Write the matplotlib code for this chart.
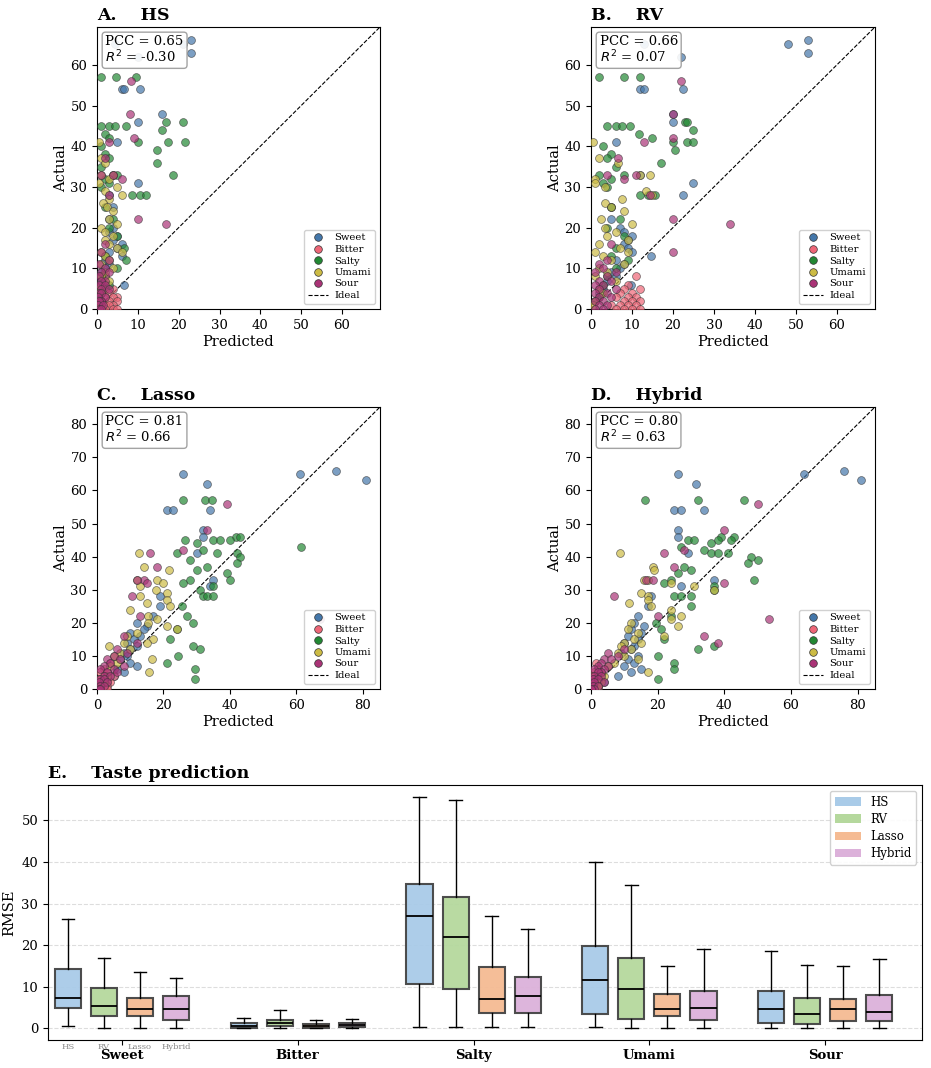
import matplotlib
matplotlib.use('Agg')
import matplotlib.pyplot as plt
from matplotlib.lines import Line2D
from matplotlib.patches import Patch
import numpy as np

plt.rcParams['font.family'] = 'serif'
plt.rcParams['font.serif'] = ['DejaVu Serif']

# ---- scatter data (actual values shared, predicted per model) ----
TASTES = ['Sweet', 'Bitter', 'Salty', 'Umami', 'Sour']
TASTE_COLORS = ['#4477AA', '#EE6677', '#228833', '#CCBB44', '#AA3377']

sweet_actual = [65, 66, 63, 65, 62, 54, 54, 54, 48, 46, 41, 33, 31, 28, 25, 22, 20, 19, 18, 17,
                16, 15, 14, 13, 12, 11, 10, 9, 8, 7, 6, 5, 4, 2]
sweet_hs = [21, 23, 23, 4.5, 10, 6, 6.5, 10.5, 16, 10, 5, 4, 10, 3, 4, 3, 4, 3, 5, 4,
            6, 5, 3, 6, 2, 3, 2, 1, 2, 1, 6.5, 1, 0.5, 0.3]
sweet_rv = [48, 53, 53, 13, 22, 12, 13, 22.5, 20, 20, 6, 12, 25, 22.5, 5, 5, 7, 8, 10, 9,
            8, 9, 10, 14.6, 6, 8, 7, 5, 6, 4, 9.8, 3, 2, 1]
sweet_lasso = [61, 72, 81, 26, 33, 21, 23, 34, 32, 32, 30, 35, 34, 19, 19, 17, 12, 15, 14, 10,
               13, 11, 9, 12, 10, 8, 9, 7, 10, 12, 6, 8, 5, 3]
sweet_hybrid = [64, 76, 81, 26, 31.5, 25, 27, 34, 26, 26, 29, 37, 27, 18, 17, 14, 13, 16, 12, 15,
                11, 14, 10, 13, 12, 9, 14, 11, 13, 10, 15, 12, 8, 4]

bitter_actual = [8, 6, 5, 5, 4, 4, 3, 3, 3, 2, 2, 2, 1, 1, 1, 1, 0, 0, 0, 0]
bitter_hs = [2, 1, 4, 2, 3, 1, 5, 2, 4, 1, 3, 5, 2, 4, 1, 3, 1, 2, 4, 5]
bitter_rv = [11, 9, 12, 8, 10, 7, 9, 11, 6, 8, 10, 12, 7, 9, 5, 11, 6, 8, 10, 12]
bitter_lasso = [4, 2, 3, 1, 2, 5, 1, 3, 0.5, 2, 1, 4, 3, 0.5, 2, 1, 0.5, 1, 2, 3]
bitter_hybrid = [1.5, 2, 1, 3, 0.5, 2, 1, 0.5, 3, 1, 2, 0.5, 1, 2, 0.5, 1, 0.3, 1, 2, 0.5]

salty_actual = [57, 57, 57, 46, 46, 45, 45, 45, 45, 44, 43, 42, 41, 41, 41, 40, 39, 38, 37, 36,
                35, 33, 33, 32, 31, 30, 28, 28, 28, 25, 22, 20, 18, 15, 13, 12, 10, 8, 6, 3]
salty_hs = [1, 4.6, 9.5, 17, 21, 1, 3, 4.5, 7, 16, 2, 3, 10, 17.5, 21.5, 1, 14.8, 2, 3, 14.8,
            1, 18.5, 5, 2, 3, 1, 8.5, 10.5, 12, 2, 4, 3, 5, 6.5, 2, 7, 5, 1, 3, 0.5]
salty_rv = [2, 8, 12, 23, 23.5, 4, 6, 7.5, 9.6, 25, 11.6, 15, 23.5, 25, 20, 3, 20.5, 5, 4, 17,
            6, 2, 8, 5, 3, 4, 12, 14, 15.5, 5, 7, 4, 8, 6, 5, 9, 6, 4, 3, 2]
salty_lasso = [25.8, 32.6, 34.6, 41.8, 43, 26.5, 35, 37, 40, 30, 61.5, 32, 24, 36, 42, 43, 28, 42, 33, 30,
               39, 40, 28, 26, 35, 31, 32, 33, 35, 25.6, 27, 29, 24, 22, 29, 31, 24.5, 21, 29.5, 29.5]
salty_hybrid = [16.3, 32, 46, 39, 43, 29, 31, 38, 42, 36, 27, 34, 36, 38, 41, 48, 50, 47, 28, 30,
                26, 49, 24, 22, 37, 37, 25, 30, 27, 30, 24, 19.5, 21, 22, 37, 32, 20, 25, 25, 20]

umami_actual = [41, 37, 36, 33, 33, 32, 31, 30, 29, 28, 27, 26, 25, 24, 22, 21, 20, 19, 18, 17,
                16, 15, 14, 14, 13, 12, 11, 10, 9, 8, 7, 5, 4, 2, 1]
umami_hs = [0.5, 1, 2, 1, 4, 3, 0.5, 5, 2, 6, 3, 1.5, 2.5, 4, 3, 5, 1, 2, 4, 2,
            3, 5, 1, 6, 2, 3, 1, 4, 2, 1, 3, 0.5, 1, 0.5, 0.3]
umami_rv = [0.5, 2, 6.5, 12, 14.5, 1, 1, 3.5, 13.5, 15, 7.5, 3.5, 5, 8, 2.5, 10, 3.5, 6, 4, 9,
            2, 7, 1, 9, 3, 5, 8, 2, 4, 1, 6, 2, 3, 1, 0.5]
umami_lasso = [12.5, 14, 21.7, 12, 18, 20, 13, 17.8, 21, 13, 21, 15, 22, 10, 15.5, 18, 15.5, 21, 24, 12,
               9, 17, 8, 15, 3.7, 10, 7, 5, 16.5, 6, 4, 15.6, 3, 2, 1]
umami_hybrid = [8.6, 18.5, 19, 16, 17, 24, 31, 37, 15, 17, 17, 11.5, 18, 24, 27, 24, 12, 26, 11, 14,
                22, 13, 10, 15, 9, 12, 8, 10, 14, 7, 5, 17, 4, 3, 2]

sour_actual = [56, 48, 42, 41, 37, 33, 33, 32, 28, 22, 21, 16, 14, 12, 11, 10, 9, 9, 8, 7,
               7, 6, 6, 5, 5, 4, 4, 3, 3, 2, 2, 1, 1, 0, 0]
sour_hs = [8.3, 8, 9, 3, 2, 1, 4, 6, 3, 10, 17, 2, 1, 3, 0.5, 2, 1, 3, 0.5, 2,
           1, 0.5, 2, 1, 3, 0.5, 1, 2, 0.3, 1, 0.5, 0.3, 1.5, 0.5, 1]
sour_rv = [22, 20, 20, 13, 6.5, 4, 11, 8, 14.5, 20, 34, 5, 20, 4, 2, 3, 6, 1, 4, 2,
           5, 1, 3, 6, 2, 4, 1, 5, 2, 3, 1, 4, 2, 1, 3]
sour_lasso = [39, 33, 26, 16, 18, 14, 12, 15, 10.5, 13, 67, 8, 12, 6, 9, 5, 7, 3, 4, 8,
              2, 5, 1, 3, 6, 2, 4, 1, 2, 3, 0.5, 1, 2, 0.5, 1]
sour_hybrid = [50, 40, 28, 22, 25, 16.5, 18.5, 40, 7, 20, 53.5, 34, 38, 10, 5, 8, 4, 6, 3, 2,
               5, 1, 4, 3, 2, 1, 3, 0.5, 2, 4, 1, 0.5, 2, 1, 0]

ACTUAL = [sweet_actual, bitter_actual, salty_actual, umami_actual, sour_actual]
PRED = {
    'HS': [sweet_hs, bitter_hs, salty_hs, umami_hs, sour_hs],
    'RV': [sweet_rv, bitter_rv, salty_rv, umami_rv, sour_rv],
    'Lasso': [sweet_lasso, bitter_lasso, salty_lasso, umami_lasso, sour_lasso],
    'Hybrid': [sweet_hybrid, bitter_hybrid, salty_hybrid, umami_hybrid, sour_hybrid],
}
STATS_TEXT = {'HS': ('0.65', '-0.30'), 'RV': ('0.66', '0.07'),
              'Lasso': ('0.81', '0.66'), 'Hybrid': ('0.80', '0.63')}

# ---- box plot summary (RMSE) : whislo, q1, med, q3, whishi ----
MODELS = ['HS', 'RV', 'Lasso', 'Hybrid']
MODEL_COLORS = ['#a9cbe8', '#b5d89d', '#f5bb93', '#dcb1da']
rmse_hs = [(0.6, 4.8, 7.2, 14.2, 26.4), (0, 0.2, 0.6, 1.3, 2.5), (0.3, 10.6, 26.9, 34.7, 55.7),
           (0.3, 3.4, 11.6, 19.7, 40.1), (0.1, 1.2, 4.6, 8.9, 18.6)]
rmse_rv = [(0, 2.9, 5.4, 9.8, 16.8), (0, 0.5, 1.3, 2.0, 4.4), (0.3, 9.4, 22.0, 31.5, 55.0),
           (0.2, 2.2, 9.4, 17.0, 34.5), (0, 1.0, 3.4, 7.4, 15.3)]
rmse_lasso = [(0.2, 2.9, 4.6, 7.4, 13.5), (0, 0.2, 0.6, 1.0, 2.1), (0.3, 3.8, 7.0, 14.7, 26.9),
              (0, 3.0, 4.6, 8.2, 15.1), (0.2, 1.8, 4.6, 7.1, 15.0)]
rmse_hybrid = [(0, 2.1, 4.6, 7.8, 12.0), (0, 0.3, 0.7, 1.2, 2.3), (0.4, 3.8, 7.8, 12.4, 23.8),
               (0.1, 1.9, 4.8, 8.9, 19.0), (0.1, 1.7, 3.9, 8.1, 16.7)]
RMSE = [rmse_hs, rmse_rv, rmse_lasso, rmse_hybrid]


def draw_scatter(ax, model, letter, lim, ticks_x, ticks_y):
    for taste, color, act, pred in zip(TASTES, TASTE_COLORS, ACTUAL, PRED[model]):
        ax.scatter(pred, act, s=32, color=color, alpha=0.7, edgecolor='#333333',
                   linewidth=0.5, zorder=3)
    ax.plot([0, lim], [0, lim], 'k--', lw=0.8, zorder=2)
    ax.set_xlim(0, lim)
    ax.set_ylim(0, lim)
    ax.set_xticks(ticks_x)
    ax.set_yticks(ticks_y)
    ax.tick_params(labelsize=9.5)
    ax.set_xlabel('Predicted', fontsize=10.5, labelpad=2)
    ax.set_ylabel('Actual', fontsize=10.5, labelpad=2)
    ax.set_title(f'{letter}.    {model}', loc='left', fontsize=12.5, fontweight='bold', pad=5)
    pcc, r2 = STATS_TEXT[model]
    ax.text(0.03, 0.97, f'PCC = {pcc}\n$R^2$ = {r2}', transform=ax.transAxes,
            ha='left', va='top', fontsize=9.5, zorder=5, linespacing=1.0,
            bbox=dict(boxstyle='round,pad=0.25', facecolor='white', edgecolor='#999999', alpha=0.9))
    handles = [Line2D([], [], marker='o', ls='', color=c, markeredgecolor='#333333',
                      markeredgewidth=0.5, markersize=5.5, label=t)
               for t, c in zip(TASTES, TASTE_COLORS)]
    handles.append(Line2D([], [], color='k', ls='--', lw=0.8, label='Ideal'))
    ax.legend(handles=handles, loc='lower right', fontsize=7.2, handlelength=2.0,
              labelspacing=0.25, borderpad=0.4, handletextpad=0.6, framealpha=0.9)


fig = plt.figure(figsize=(9.31, 10.68), dpi=100)
W, H = 931, 1068


def add_ax(x0, y0, x1, y1):
    return fig.add_axes([x0 / W, 1 - y1 / H, (x1 - x0) / W, (y1 - y0) / H])


axA = add_ax(97, 27, 380, 309)
axB = add_ax(591, 27, 875, 309)
axC = add_ax(97, 407, 380, 689)
axD = add_ax(591, 407, 875, 689)
axE = add_ax(48, 785, 922, 1040)

draw_scatter(axA, 'HS', 'A', 69.3, range(0, 70, 10), range(0, 70, 10))
draw_scatter(axB, 'RV', 'B', 69.3, range(0, 70, 10), range(0, 70, 10))
draw_scatter(axC, 'Lasso', 'C', 85.2, range(0, 90, 20), range(0, 90, 10))
draw_scatter(axD, 'Hybrid', 'D', 85.2, range(0, 90, 20), range(0, 90, 10))

# ---- E: box plots ----
offsets = np.array([-1.5, -0.5, 0.5, 1.5]) * 0.205
for j, (model, color, stats_list) in enumerate(zip(MODELS, MODEL_COLORS, RMSE)):
    stats = [dict(whislo=s[0], q1=s[1], med=s[2], q3=s[3], whishi=s[4], fliers=[])
             for s in stats_list]
    pos = np.arange(len(TASTES)) + offsets[j]
    bp = axE.bxp(stats, positions=pos, widths=0.148, patch_artist=True, showfliers=False,
                 boxprops=dict(facecolor=color, edgecolor='#444444', linewidth=1.5),
                 medianprops=dict(color='black', linewidth=1.3),
                 whiskerprops=dict(color='black', linewidth=1.0),
                 capprops=dict(color='black', linewidth=1.0), capwidths=0.07)
    for b in bp['boxes']:
        b.set_alpha(0.95)
    axE.text(offsets[j], -0.012, model, transform=axE.get_xaxis_transform(),
             ha='center', va='top', fontsize=6, color='#888888')

axE.set_xlim(-0.42, 4.55)
axE.set_ylim(-2.8, 58.5)
axE.set_xticks(np.arange(len(TASTES)))
axE.set_xticklabels(TASTES, fontweight='bold', fontsize=9.5)
axE.tick_params(axis='x', pad=3)
axE.tick_params(axis='y', labelsize=9.5)
axE.set_yticks(range(0, 60, 10))
axE.set_ylabel('RMSE', fontsize=10.5)
axE.yaxis.grid(True, ls='--', color='#dddddd', lw=0.8)
axE.set_axisbelow(True)
axE.set_title('E.    Taste prediction', loc='left', fontsize=12.5, fontweight='bold', pad=5)
axE.legend(handles=[Patch(facecolor=c, label=m) for m, c in zip(MODELS, MODEL_COLORS)],
           loc='upper right', fontsize=8.5, labelspacing=0.35, handlelength=2.2,
           framealpha=0.9)

fig.savefig('out.png', dpi=100, facecolor='white')
